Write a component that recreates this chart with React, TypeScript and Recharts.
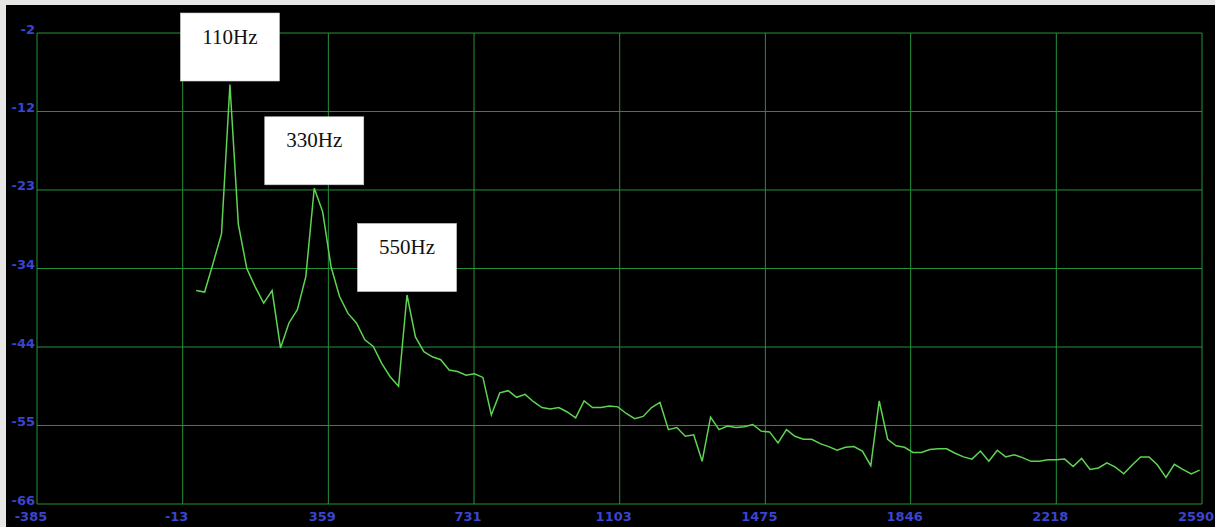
import { LineChart, Line, XAxis, YAxis, CartesianGrid, ReferenceDot } from 'recharts'

// FFT magnitude spectrum, one value per bin (dB), starting at bin 1
const BIN_HZ = 44100 / 2048

const MAGS_DB = [
  -37.0, -37.2, -33.3, -29.3, -9.0, -28.0, -34.0, -36.5, -38.7, -37.0,
  -44.8, -41.4, -39.6, -35.1, -23.1, -26.3, -33.8, -37.8, -40.1, -41.4,
  -43.7, -44.6, -46.9, -48.7, -50.0, -37.6, -43.3, -45.3, -46.0, -46.4,
  -47.8, -48.0, -48.5, -48.3, -48.8, -53.9, -50.9, -50.6, -51.5, -51.1,
  -52.1, -52.9, -53.1, -52.9, -53.5, -54.3, -52.0, -52.9, -52.9, -52.7,
  -52.8, -53.7, -54.4, -54.1, -52.9, -52.2, -55.9, -55.6, -56.8, -56.6,
  -60.2, -54.2, -55.9, -55.4, -55.6, -55.5, -55.2, -56.1, -56.2, -57.7,
  -55.9, -56.8, -57.2, -57.2, -57.8, -58.2, -58.7, -58.3, -58.2, -58.8,
  -60.8, -52.0, -57.2, -58.1, -58.3, -59.0, -59.0, -58.6, -58.5, -58.5,
  -59.1, -59.6, -59.9, -58.8, -60.2, -58.7, -59.6, -59.3, -59.7, -60.2,
  -60.2, -60.0, -60.0, -59.9, -60.9, -59.8, -61.3, -61.1, -60.4, -61.0,
  -61.9, -60.7, -59.6, -59.6, -60.7, -62.4, -60.6, -61.3, -61.9, -61.4,
]

// harmonic peaks that get a tag (bin numbers)
const PEAK_LABELS = ['110Hz', '330Hz', '550Hz']
const PEAK_BINS = [5, 15, 26]

const X_TICKS = [-385, -13, 359, 731, 1103, 1475, 1846, 2218, 2590]
const Y_TICKS = [-2, -12.67, -23.33, -34, -44.67, -55.33, -66]

const GRID = '#23933a'
const TRACE = '#5ed452'
const TICK_BLUE = '#3a44cf'

const data = MAGS_DB.map((db, i) => ({ freq: (i + 1) * BIN_HZ, db }))

function XTick({ x, y, payload }: { x?: number; y?: number; payload?: { value: number } }) {
  if (!payload) return null
  return (
    <text x={(x ?? 0) - 6} y={(y ?? 0) + 10.5} textAnchor="middle" dominantBaseline="central"
      fill={TICK_BLUE} fontFamily="DejaVu Sans" fontWeight="bold" fontSize={13}>
      {payload.value}
    </text>
  )
}

function YTick({ x, y, payload }: { x?: number; y?: number; payload?: { value: number } }) {
  if (!payload) return null
  return (
    <text x={x} y={(y ?? 0) - 4} textAnchor="end" dominantBaseline="central"
      fill={TICK_BLUE} fontFamily="DejaVu Sans" fontWeight="bold" fontSize={13}>
      {Math.trunc(payload.value)}
    </text>
  )
}

function PeakTag({ cx, cy, text }: { cx?: number; cy?: number; text: string }) {
  if (cx == null || cy == null) return null
  const w = 99
  const h = 68
  const top = cy - 3.5 - h
  return (
    <g>
      <rect x={cx - w / 2} y={top} width={w} height={h} fill="#ffffff" stroke="#cfcfcf" strokeWidth={0.6} />
      <text x={cx} y={top + 23.5} textAnchor="middle" dominantBaseline="central"
        fontFamily="'Liberation Serif', 'Times New Roman', serif" fontSize={21} fill="#111">
        {text}
      </text>
    </g>
  )
}

export default function App() {
  return (
    <div style={{ position: 'absolute', left: 0, top: 0, width: 1215, height: 527, background: '#e6e6e4' }}>
      <div style={{ position: 'absolute', left: 6, top: 5, width: 1209, height: 522, background: '#000' }}>
        <LineChart width={1209} height={522} data={data}
          margin={{ top: 28, right: 13, left: 0, bottom: 0 }}>
          <CartesianGrid stroke={GRID} strokeWidth={1} />
          <XAxis
            dataKey="freq"
            type="number"
            domain={[-385, 2590]}
            ticks={X_TICKS}
            interval={0}
            height={23}
            axisLine={false}
            tickLine={false}
            tickSize={0}
            tick={<XTick />}
          />
          <YAxis
            type="number"
            domain={[-66, -2]}
            ticks={Y_TICKS}
            interval={0}
            width={31}
            axisLine={false}
            tickLine={false}
            tickSize={0}
            tickMargin={2}
            allowDataOverflow
            tick={<YTick />}
          />
          <Line
            dataKey="db"
            type="linear"
            stroke={TRACE}
            strokeWidth={1.5}
            dot={false}
            isAnimationActive={false}
          />
          {PEAK_BINS.map((bin, i) => (
            <ReferenceDot
              key={PEAK_LABELS[i]}
              x={data[bin - 1].freq}
              y={data[bin - 1].db}
              ifOverflow="visible"
              shape={(p: { cx?: number; cy?: number }) => <PeakTag cx={p.cx} cy={p.cy} text={PEAK_LABELS[i]} />}
            />
          ))}
        </LineChart>
      </div>
    </div>
  )
}
